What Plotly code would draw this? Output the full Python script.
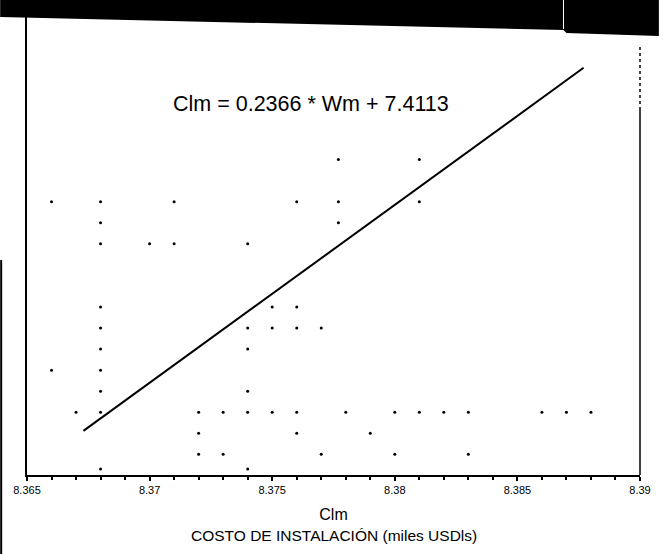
import plotly.graph_objects as go

# scattered observations (Clm on x, Wm on y)
clm = [8.366, 8.368, 8.371, 8.368, 8.368, 8.370, 8.371,
       8.368, 8.368, 8.368, 8.366, 8.368, 8.368,
       8.367, 8.368, 8.372, 8.373, 8.374, 8.375, 8.376, 8.378, 8.380, 8.381, 8.382, 8.383, 8.386, 8.387, 8.388,
       8.372, 8.376, 8.379,
       8.372, 8.373, 8.377, 8.380, 8.383,
       8.368, 8.374,
       8.374, 8.374,
       8.3777, 8.381, 8.376, 8.3777, 8.381, 8.3777,
       8.375, 8.376, 8.374, 8.375, 8.376, 8.377, 8.374]
wm = [4.095, 4.095, 4.095, 4.090, 4.085, 4.085, 4.085,
      4.070, 4.065, 4.060, 4.055, 4.055, 4.050,
      4.045, 4.045, 4.045, 4.045, 4.045, 4.045, 4.045, 4.045, 4.045, 4.045, 4.045, 4.045, 4.045, 4.045, 4.045,
      4.040, 4.040, 4.040,
      4.035, 4.035, 4.035, 4.035, 4.035,
      4.0315, 4.0315,
      4.050, 4.085,
      4.105, 4.105, 4.095, 4.095, 4.095, 4.090,
      4.070, 4.070, 4.065, 4.065, 4.065, 4.065, 4.060]

# regression: Clm = 0.2366 * Wm + 7.4113
slope = 0.2366
intercept = 7.4113
fit_clm = [8.3673, 8.3877]
fit_wm = [(c - intercept) / slope for c in fit_clm]

tick_vals = [8.365, 8.37, 8.375, 8.38, 8.385, 8.39]
tick_text = ["8.365", "8.37", "8.375", "8.38", "8.385", "8.39"]
minor_vals = [8.365 + i * 0.001 for i in range(26)]

W, H = 663, 554
L, R, T, B = 27, 19, 16, 79
pw, ph = W - L - R, H - T - B


def px(x):
    return (x - L) / pw


def py(y):
    return (H - B - y) / ph


fig = go.Figure()
fig.add_trace(go.Scatter(x=clm, y=wm, mode='markers',
                         marker=dict(color='black', size=3), showlegend=False))
fig.add_trace(go.Scatter(x=fit_clm, y=fit_wm, mode='lines',
                         line=dict(color='black', width=2), showlegend=False))

band = "M {} {} L {} {} L {} {} L {} {} L {} {} L {} {} Z".format(
    px(0), py(0), px(663), py(0), px(663), py(36), px(570), py(33), px(567), py(30), px(0), py(17))

fig.update_layout(
    width=W, height=H,
    margin=dict(l=L, r=R, t=T, b=B),
    paper_bgcolor='white', plot_bgcolor='white',
    font=dict(family='Liberation Sans, Arial, sans-serif', color='black'),
    xaxis=dict(range=[8.365, 8.39], showgrid=False, zeroline=False,
               showline=True, linecolor='black', linewidth=2,
               tickmode='array', tickvals=tick_vals, ticktext=tick_text,
               ticks='outside', ticklen=4, tickwidth=2, tickcolor='black',
               tickfont=dict(size=11, family='Liberation Sans Narrow, Liberation Sans, Arial'),
               minor=dict(tickmode='array', tickvals=minor_vals, ticks='outside',
                          ticklen=3, tickwidth=2, tickcolor='black'),
               title=dict(text='Clm', font=dict(size=16), standoff=14)),
    yaxis=dict(range=[4.0301, 4.1391], showgrid=False, zeroline=False,
               showline=True, linecolor='black', linewidth=1.5, mirror=False,
               showticklabels=False, ticks=''),
    shapes=[
        dict(type='line', xref='paper', yref='paper', x0=1, x1=1,
             y0=0, y1=py(110), line=dict(color='black', width=1.5)),
        dict(type='line', xref='paper', yref='paper', x0=1, x1=1,
             y0=py(110), y1=py(45), line=dict(color='black', width=1.5, dash='dot')),
        dict(type='path', path=band, xref='paper', yref='paper',
             fillcolor='black', line=dict(width=0), layer='above'),
        dict(type='line', xref='paper', yref='paper', x0=px(567), x1=px(567),
             y0=py(0), y1=py(29), line=dict(color='white', width=1), layer='above'),
        dict(type='line', xref='paper', yref='paper', x0=px(1), x1=px(1),
             y0=py(260), y1=py(554), line=dict(color='black', width=2), layer='above'),
    ],
    annotations=[
        dict(text='Clm = 0.2366 * Wm + 7.4113', xref='paper', yref='paper',
             x=px(313), y=py(90), showarrow=False, font=dict(size=21.5)),
        dict(text='COSTO DE INSTALACIÓN (miles USDls)', xref='paper', yref='paper',
             x=px(336), y=py(546), showarrow=False, font=dict(size=15.5)),
    ],
)

fig.write_html("out.html", config={'displayModeBar': False},
               post_script="document.body.style.margin='0';")
